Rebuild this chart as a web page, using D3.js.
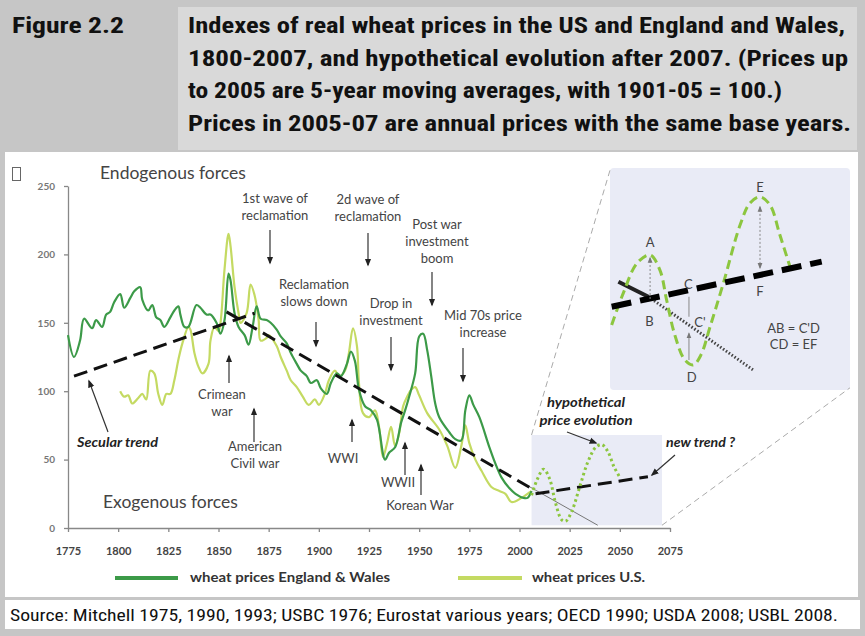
<!DOCTYPE html>
<html><head><meta charset="utf-8">
<script src="https://cdn.jsdelivr.net/npm/d3@7"></script>
<style>html,body{margin:0;padding:0;background:#c6c6c6;}svg{display:block}</style>
</head><body>
<svg id="c" width="865" height="636"></svg>
<script>
// ---------- DATA ----------
const xTicks = [1775,1800,1825,1850,1875,1900,1925,1950,1975,2000,2025,2050,2075];
const yTicks = [0,50,100,150,200,250];

const ewYears  = [1775,1778,1781,1783,1787,1789,1792,1794,1796,1798,1801,1803,1806,1808,1811,1812,1815,1817,1819,1821,1823,1826,1828,1830,1831,1833,1835,1839,1841,1844,1846,1849,1851,1853,1855,1856,1858,1860,1863,1865,1867,1869,1871,1874,1876,1879,1881,1884,1886,1889,1891,1894,1896,1899,1901,1904,1906,1909,1911,1914,1916,1918,1920,1923,1926,1929,1933,1935,1938,1941,1943,1945,1948,1950,1952,1954,1956,1958,1960,1965,1968,1971,1973,1975,1977,1980,1985,1988,1991,1995,1998,2002,2004,2006];
const ewValues = [141,125,137,153,146,152,147,156,158,165,171,161,168,173,176,167,159,163,154,152,147,154,159,162,156,147,147,163,161,156,156,150,142,152,186,181,157,147,141,134,147,162,153,152,150,145,140,135,128,120,115,111,106,108,102,98,106,113,111,120,129,122,101,89,86,79,50,55,59,77,86,96,113,140,142,130,111,91,81,70,65,64,86,97,90,81,59,47,37,29,25,22,22,27];

const usYears  = [1801,1803,1805,1807,1810,1812,1814,1816,1818,1820,1822,1824,1826,1828,1830,1832,1835,1836,1838,1840,1842,1845,1846,1848,1850,1851,1853,1855,1856,1858,1860,1861,1864,1866,1868,1870,1871,1874,1875,1879,1881,1884,1886,1889,1892,1895,1898,1900,1903,1905,1908,1910,1913,1915,1917,1919,1920,1922,1925,1928,1930,1932,1934,1936,1938,1940,1942,1944,1946,1948,1950,1954,1960,1964,1968,1971,1973,1975,1978,1981,1986,1990,1993,1996,2001,2004,2006];
const usValues = [100,96,97,91,95,98,94,115,113,98,90,98,98,108,123,135,147,145,128,118,113,120,137,147,144,150,189,215,206,176,157,150,157,178,170,152,137,139,141,133,125,115,108,103,96,90,94,90,98,108,115,111,115,128,146,133,106,84,81,86,74,52,62,74,60,69,89,96,101,103,97,84,72,60,44,60,75,62,50,42,30,27,25,19,22,25,27];

const secularUpYears = [1778, 1868], secularUpValues = [111, 157];
const secularDownYears = [1854, 2007], secularDownValues = [158, 28];
const secularExtYears = [2004, 2039], secularExtValues = [31, 2];
const newTrendYears = [2008, 2064], newTrendValues = [25, 37.5];
const hypoYears  = [2006,2009,2012,2015,2018,2021,2023,2026,2030,2034,2038,2041,2044,2047,2050];
const hypoValues = [24,36,43,36,18,6,5,12,30,48,59,61,56,45,37];

// inset (magnified diagram), in its own 0-100 units
const insetTrendX = [0.7, 88.2], insetTrendY = [37.5, 57.8];
const insetOldX = [3.5, 16], insetOldY = [48.8, 42];
const insetOldDotX = [16, 59.7], insetOldDotY = [42, 9];
const insetWaveX = [0.7,5.5,11.3,16.7,20.8,23.6,27,31.2,34.7,37.9,41.7,47.2,54.2,58.3,62.5,66.7,70.8,75];
const insetWaveY = [29.3,43.5,57.2,60.8,54,40.5,24.8,13.5,11.3,15.8,28.5,48,74.3,84.2,87,83.3,69.8,55.5];

const legendLabels = ["wheat prices England & Wales", "wheat prices U.S."];
const colEW = "#3c9a48", colUS = "#c4da62", colHypo = "#8cc63f";

// ---------- LAYOUT ----------
const svg = d3.select("#c");
const narrow = "'Liberation Sans Narrow','Arial Narrow','Roboto Condensed','Liberation Sans',sans-serif";
const hum = "Lato,'Open Sans',sans-serif";

// header
svg.append("rect").attr("x",178).attr("y",7).attr("width",679).attr("height",143).attr("fill","#d9d9d9");
svg.append("text").attr("x",12).attr("y",33).attr("font-family",narrow).attr("font-weight","bold")
  .attr("font-size",21.5).attr("fill","#111").attr("textLength",112).attr("lengthAdjust","spacingAndGlyphs").text("Figure 2.2");
const titleLines = [
 ["Indexes of real wheat prices in the US and England and Wales,",657],
 ["1800-2007, and hypothetical evolution after 2007. (Prices up",660],
 ["to 2005 are 5-year moving averages, with 1901-05 = 100.)",594],
 ["Prices in 2005-07 are annual prices with the same base years.",663]];
titleLines.forEach((l,i)=>svg.append("text").attr("x",188).attr("y",33+i*32.7)
  .attr("font-family",narrow).attr("font-weight","bold").attr("font-size",21.5).attr("fill","#111")
  .attr("textLength",l[1]).attr("lengthAdjust","spacingAndGlyphs").text(l[0]));

// panels
svg.append("rect").attr("x",5).attr("y",152).attr("width",853).attr("height",445).attr("fill","#fff");
svg.append("rect").attr("x",5).attr("y",600).attr("width",855).attr("height",29).attr("fill","#fff");
svg.append("text").attr("x",10).attr("y",621).attr("font-family",narrow).attr("font-size",16.5).attr("fill","#111")
  .attr("textLength",828).attr("lengthAdjust","spacingAndGlyphs")
  .text("Source: Mitchell 1975, 1990, 1993; USBC 1976; Eurostat various years; OECD 1990; USDA 2008; USBL 2008.");
svg.append("rect").attr("x",12.5).attr("y",167.5).attr("width",8).attr("height",13).attr("fill","none").attr("stroke","#666").attr("stroke-width",1);

// scales
const x = d3.scaleLinear().domain([1775,2075]).range([68,670]);
const y = d3.scaleLinear().domain([0,250]).range([528,186]);
const ix = d3.scaleLinear().domain([0,100]).range([610,850]);
const iy = d3.scaleLinear().domain([0,100]).range([390,168]);

// markers
const defs = svg.append("defs");
function mk(id,color,size){
  defs.append("marker").attr("id",id).attr("viewBox","0 0 10 10").attr("refX",8).attr("refY",5)
   .attr("markerWidth",size).attr("markerHeight",size).attr("orient","auto-start-reverse")
   .attr("markerUnits","userSpaceOnUse")
   .append("path").attr("d","M0,1 L10,5 L0,9 Z").attr("fill",color);
}
mk("ah","#222",8); mk("ahs","#777",6);

// zoom boxes
svg.append("rect").attr("x",ix(0)).attr("y",iy(100)).attr("width",ix(100)-ix(0)).attr("height",iy(0)-iy(100))
  .attr("rx",4).attr("fill","#e9ebf6");
svg.append("rect").attr("x",x(2006)).attr("y",y(68)).attr("width",x(2071)-x(2006)).attr("height",y(2)-y(68))
  .attr("fill","#e9ebf6");
svg.append("line").attr("x1",x(2006)).attr("y1",y(68)).attr("x2",ix(0)).attr("y2",iy(99))
  .attr("stroke","#aaa").attr("stroke-dasharray","6,4").attr("stroke-width",1);
svg.append("line").attr("x1",x(2071)).attr("y1",y(2)).attr("x2",ix(100)).attr("y2",iy(1))
  .attr("stroke","#aaa").attr("stroke-dasharray","6,4").attr("stroke-width",1);

// axes
const gy = svg.append("g").attr("transform","translate(68,0)")
  .call(d3.axisLeft(y).tickValues(yTicks).tickSize(4).tickSizeOuter(0).tickPadding(9));
gy.selectAll("text").attr("font-family",hum).attr("font-weight","bold").attr("font-size",10).attr("fill","#777");
const gx = svg.append("g").attr("transform","translate(0,528)")
  .call(d3.axisBottom(x).tickValues(xTicks).tickSize(4).tickSizeOuter(0).tickPadding(15).tickFormat(d3.format("d")));
gx.selectAll("text").attr("font-family",hum).attr("font-weight","bold").attr("font-size",11).attr("fill","#444");
[gx,gy].forEach(g=>{g.selectAll("path,line").attr("stroke","#888").attr("stroke-width",1.3);});

// lines
const zip = (a,b)=>a.map((d,i)=>[d,b[i]]);
const lineM = d3.line().x(d=>x(d[0])).y(d=>y(d[1])).curve(d3.curveCatmullRom.alpha(0.5));
const lineS = d3.line().x(d=>x(d[0])).y(d=>y(d[1]));
svg.append("path").attr("d",lineM(zip(usYears,usValues))).attr("fill","none").attr("stroke",colUS).attr("stroke-width",2.2);
svg.append("path").attr("d",lineM(zip(ewYears,ewValues))).attr("fill","none").attr("stroke",colEW).attr("stroke-width",2.2);
svg.append("path").attr("d",lineS(zip(secularExtYears,secularExtValues))).attr("fill","none").attr("stroke","#777").attr("stroke-width",1);
[[secularUpYears,secularUpValues],[secularDownYears,secularDownValues],[newTrendYears,newTrendValues]].forEach(s=>
  svg.append("path").attr("d",lineS(zip(s[0],s[1]))).attr("fill","none").attr("stroke","#111")
   .attr("stroke-width",3).attr("stroke-dasharray","14,7"));
svg.append("path").attr("d",lineM(zip(hypoYears,hypoValues))).attr("fill","none").attr("stroke",colHypo)
  .attr("stroke-width",3).attr("stroke-dasharray","2.5,3");

// inset drawing
const iline = d3.line().x(d=>ix(d[0])).y(d=>iy(d[1]));
const ilineC = d3.line().x(d=>ix(d[0])).y(d=>iy(d[1])).curve(d3.curveCatmullRom.alpha(0.5));
svg.append("path").attr("d",iline(zip(insetOldDotX,insetOldDotY))).attr("fill","none").attr("stroke","#444")
  .attr("stroke-width",3).attr("stroke-dasharray","1.5,2");
svg.append("path").attr("d",iline(zip(insetOldX,insetOldY))).attr("fill","none").attr("stroke","#222").attr("stroke-width",4);
svg.append("path").attr("d",ilineC(zip(insetWaveX,insetWaveY))).attr("fill","none").attr("stroke",colHypo)
  .attr("stroke-width",3).attr("stroke-dasharray","9,5");
svg.append("path").attr("d",iline(zip(insetTrendX,insetTrendY))).attr("fill","none").attr("stroke","#000")
  .attr("stroke-width",6).attr("stroke-dasharray","20,9");
// inset arrows
function iarrow(xv,y1,y2,dash,both){
  const l=svg.append("line").attr("x1",ix(xv)).attr("x2",ix(xv)).attr("y1",iy(y1)).attr("y2",iy(y2))
   .attr("stroke","#888").attr("stroke-width",1).attr("marker-end","url(#ahs)");
  if(dash) l.attr("stroke-dasharray","2,2");
  if(both) l.attr("marker-start","url(#ahs)");
}
iarrow(16.7,41,59.5,true,false);
svg.append("line").attr("x1",ix(32.9)).attr("x2",ix(32.9)).attr("y1",iy(42)).attr("y2",iy(33)).attr("stroke","#888");
iarrow(32.9,13.5,25.5,false,false);
iarrow(62.5,55,82.5,true,true);
const insetLabels = [["A",16.7,64.5],["B",16.4,29],["C",32.6,45.5],["C'",37.5,28.5],["D",34,3.5],["E",62.5,89],["F",62.5,42.5]];
insetLabels.forEach(l=>svg.append("text").attr("x",ix(l[1])).attr("y",iy(l[2])).attr("text-anchor","middle")
  .attr("font-family",hum).attr("font-size",13).attr("fill","#444").text(l[0]));
svg.append("text").attr("x",ix(76.5)).attr("y",iy(25.5)).attr("text-anchor","middle").attr("font-family",hum)
  .attr("font-size",13).attr("fill","#444").text("AB = C'D");
svg.append("text").attr("x",ix(76.5)).attr("y",iy(18.3)).attr("text-anchor","middle").attr("font-family",hum)
  .attr("font-size",13).attr("fill","#444").text("CD = EF");

// annotations
const notes = [
 {t:["1st wave of","reclamation"],x:275,y:203},
 {t:["2d wave of","reclamation"],x:368,y:204},
 {t:["Post war","investment","boom"],x:437,y:229},
 {t:["Reclamation","slows down"],x:314,y:289},
 {t:["Drop in","investment"],x:391,y:308},
 {t:["Mid 70s price","increase"],x:483,y:320},
 {t:["Crimean","war"],x:222,y:399},
 {t:["American","Civil war"],x:255,y:451},
 {t:["WWI"],x:343,y:463},
 {t:["WWII"],x:398,y:487},
 {t:["Korean War"],x:420,y:510}];
notes.forEach(n=>{
  const t=svg.append("text").attr("text-anchor","middle").attr("font-family",hum).attr("font-size",13).attr("fill","#444");
  n.t.forEach((s,i)=>t.append("tspan").attr("x",n.x).attr("y",n.y+i*17).text(s));
});
svg.append("text").attr("x",100).attr("y",179).attr("font-family",hum).attr("font-size",17.5).attr("fill","#444").text("Endogenous forces");
svg.append("text").attr("x",103).attr("y",508).attr("font-family",hum).attr("font-size",17.5).attr("fill","#444").text("Exogenous forces");
const bi = [{t:[["Secular trend",81]],x:77,y:447,a:"start"},{t:[["hypothetical",78],["price evolution",93]],x:586,y:407,a:"middle"},{t:[["new trend ?",69]],x:666,y:447,a:"start"}];
bi.forEach(n=>{
  n.t.forEach((s,i)=>svg.append("text").attr("text-anchor",n.a).attr("font-family",hum).attr("font-size",12.5)
   .attr("font-weight","bold").attr("font-style","italic").attr("fill","#222")
   .attr("x",n.x).attr("y",n.y+i*18).attr("textLength",s[1]).attr("lengthAdjust","spacingAndGlyphs").text(s[0]));
});
const arrows = [[270,230,270,263],[368,233,368,265],[432,272,432,305],[316,322,316,346],[391,337,391,370],[463,348,463,381],
 [229,383,229,356],[254,442,254,409],[352,442,352,420],[405,475,405,443],[421,495,421,465],[108,432,89,381],[567,432,596,443],[675,455,652,475]];
arrows.forEach(a=>svg.append("line").attr("x1",a[0]).attr("y1",a[1]).attr("x2",a[2]).attr("y2",a[3])
  .attr("stroke","#333").attr("stroke-width",1.2).attr("marker-end","url(#ah)"));

// legend
const lg = [{c:colEW,x1:115,x2:178,tx:190,w:200},{c:colUS,x1:458,x2:522,tx:532,w:113}];
lg.forEach((l,i)=>{
  svg.append("line").attr("x1",l.x1).attr("x2",l.x2).attr("y1",578).attr("y2",578).attr("stroke",l.c).attr("stroke-width",4);
  svg.append("text").attr("x",l.tx).attr("y",582).attr("font-family",hum).attr("font-weight","bold").attr("font-size",13)
   .attr("fill","#333").attr("textLength",l.w).attr("lengthAdjust","spacingAndGlyphs").text(legendLabels[i]);
});
</script>
</body></html>
